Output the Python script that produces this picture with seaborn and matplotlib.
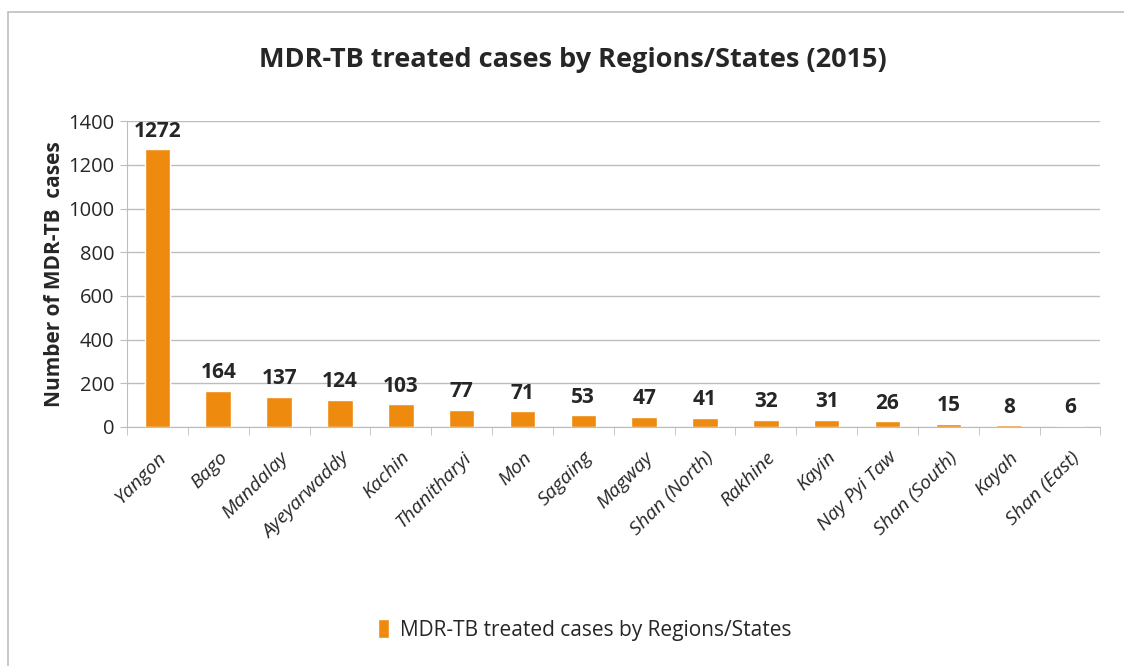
import matplotlib
matplotlib.use("Agg")
import matplotlib.pyplot as plt
import seaborn as sns
import pandas as pd
from matplotlib.patches import Rectangle

regions = ['Yangon', 'Bago', 'Mandalay', 'Ayeyarwaddy', 'Kachin', 'Thanitharyi', 'Mon',
           'Sagaing', 'Magway', 'Shan (North)', 'Rakhine', 'Kayin', 'Nay Pyi Taw',
           'Shan (South)', 'Kayah', 'Shan (East)']
cases = [1272, 164, 137, 124, 103, 77, 71, 53, 47, 41, 32, 31, 26, 15, 8, 6]
y_ticks = [0, 200, 400, 600, 800, 1000, 1200, 1400]

series_name = 'MDR-TB treated cases by Regions/States'
bar_color = '#EE8A0E'

df = pd.DataFrame({'Region': regions, 'Cases': cases})

sns.set_style('white')
plt.rcParams['font.family'] = ['Open Sans', 'DejaVu Sans']

fig = plt.figure(figsize=(11.24, 6.66), dpi=100)
ax = fig.add_axes([0.113, 0.359, 0.866, 0.459])

# chart frame like the spreadsheet export
fig.patches.append(Rectangle((8 / 1124, -0.05), 1.0, 1 - 12 / 666 + 0.05,
                             transform=fig.transFigure, fill=False,
                             edgecolor='#BFBFBF', linewidth=1.2))

sns.barplot(data=df, x='Region', y='Cases', color=bar_color, width=0.42,
            saturation=1, ax=ax, label=series_name)

for i, v in enumerate(cases):
    ax.text(i, v + 35, str(v), ha='center', va='bottom', fontsize=15,
            fontweight='bold', color='#262626')

ax.set_ylim(0, 1400)
ax.set_xlim(-0.5, len(regions) - 0.5)
ax.set_yticks(y_ticks)
ax.yaxis.grid(True, color='#BDBDBD', linewidth=1)
ax.set_axisbelow(True)
for s in ['top', 'right']:
    ax.spines[s].set_visible(False)
ax.spines['left'].set_color('#BDBDBD')
ax.spines['bottom'].set_color('#BDBDBD')

ax.tick_params(axis='y', labelsize=14.5, left=True, length=5, color='#BDBDBD',
               labelcolor='#262626', pad=4)
ax.set_xticks(range(len(regions)))
ax.set_xticklabels(regions, rotation=45, ha='right', rotation_mode='anchor',
                   fontsize=14, style='italic', color='#262626')
ax.tick_params(axis='x', bottom=False, pad=12)
# boundary ticks between categories
ax.set_xticks([i - 0.5 for i in range(len(regions) + 1)], minor=True)
ax.tick_params(axis='x', which='minor', bottom=True, length=6, color='#BDBDBD')

ax.set_xlabel('')
ax.set_ylabel('Number of MDR-TB  cases', fontsize=15, fontweight='bold',
              color='#262626')
ax.yaxis.set_label_coords(-0.064, 0.5)

fig.suptitle('MDR-TB treated cases by Regions/States (2015)', fontsize=19.5,
             fontweight='bold', color='#262626', x=0.51, y=0.93)

ax.legend(loc='center', bbox_to_anchor=(0.47, -0.665), frameon=False,
          fontsize=15, handlelength=0.55, handleheight=1.0, handletextpad=0.5)

fig.savefig('out.png', dpi=100, facecolor='white')
